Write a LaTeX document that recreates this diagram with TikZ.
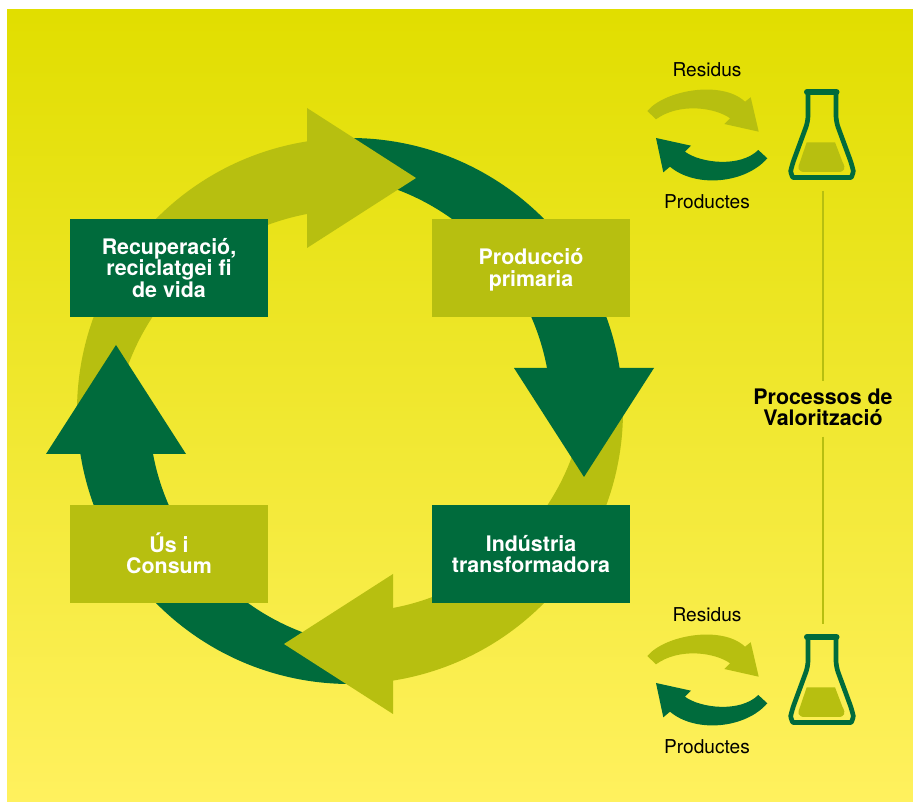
\documentclass[tikz,border=0pt]{standalone}
\usepackage{fontspec}
\setmainfont{TeX Gyre Heros}
\usetikzlibrary{positioning}
\definecolor{leafdark}{RGB}{0,107,60}
\definecolor{leafolive}{RGB}{183,191,16}
\definecolor{bgtop}{RGB}{225,222,0}
\definecolor{bgbottom}{RGB}{255,241,94}
\tikzset{
  stagebox/.style={
    rectangle,
    minimum width=198pt,
    minimum height=98pt,
    inner sep=0pt,
    align=center,
    text=white,
    font=\fontsize{21.4}{21.5}\selectfont\bfseries
  },
  smalllabel/.style={
    font=\fontsize{19.1}{22}\selectfont
  }
}

\begin{document}
\begin{tikzpicture}[x=1pt,y=1pt]
  \useasboundingbox (0,0) rectangle (913,802);

  % Background
  \shade[top color=bgtop, bottom color=bgbottom] (7,0) rectangle (913,792);

  % Cycle - bands first, heads over the tails
  \foreach \ang/\col in {0/leafdark,-90/leafolive,-180/leafdark,-270/leafolive} {
    \begin{scope}[shift={(350,391)},rotate=\ang]
      \fill[\col] (90:273) arc[start angle=90,end angle=7,radius=273pt]
        -- ([shift={(-36.5,-1)}]8:237.6)
        arc[start angle=8,end angle=81.2,radius=237.6pt] -- cycle;
    \end{scope}
  }
  \foreach \ang/\col/\off in {0/leafdark/0,-90/leafolive/1,-180/leafdark/0,-270/leafolive/-1} {
    \begin{scope}[shift={(350,391+\off)},rotate=\ang]
      \fill[\col] (164,43) -- (304,43) -- (234,-66) -- cycle;
    \end{scope}
  }

  % Stages
  \node[stagebox,fill=leafolive] (primaria) at (531,534) {\rule{0pt}{20pt}Producció\\primaria};
  \node[stagebox,fill=leafdark] (industria) at (531,248) {Indústria\\transformadora};
  \node[stagebox,fill=leafolive] (consum) at (169,248) {Ús i\\Consum\rule[-2pt]{0pt}{2pt}};
  \node[stagebox,fill=leafdark] (recuperacio) at (169,534) {Recuperació,\\reciclatgei fi\\de vida};

  % Valorisation column
  \node[align=center,minimum height=52pt,inner sep=0pt,font=\fontsize{21.4}{21.5}\selectfont\bfseries,text=black] (valor) at (823,394.5) {Processos de\\Valorització};
  \coordinate (flaskend) at (823,611);
  \coordinate (flasktop) at (823,178);
  \draw[leafolive,line width=2pt] (flaskend) -- (valor.north);
  \draw[leafolive,line width=2pt] ([yshift=-3pt]valor.south) -- (flasktop);

  % Exchanges and flasks
  \foreach \dy/\nm in {0/a,-545/b} {
    \begin{scope}[yshift=\dy pt]
      \node[smalllabel] (residus\nm) at (707,732) {Residus};
      \node[smalllabel] (productes\nm) at (707,600) {Productes};
      \fill[leafolive] (647.3,691) .. controls (665,712) and (722,722) .. (745,700.3)
        -- (750.7,704.7) -- (758.7,670.3) -- (724.3,678) -- (730,683.7)
        .. controls (716,694) and (680,700) .. (656,682.7) -- cycle;
      \fill[leafdark] (767.3,643.7) -- (758.3,652)
        .. controls (740,634) and (700,639) .. (685,650.3)
        -- (691,656.3) -- (656,664) -- (663.3,629.7) -- (670,635.3)
        .. controls (695,614) and (745,618) .. (767.3,643.7) -- cycle;
      % flask
      \fill[leafolive] (806.7,659.7) -- (835,659.7) -- (842.5,640)
        .. controls (846,634) and (845,630) .. (838,630) -- (805,630)
        .. controls (798,630) and (797,634) .. (800,640) -- cycle;
      \draw[leafdark,line width=4.7pt,line join=round,rounded corners=6pt] (808,710) -- (808,680.5)
        -- (792,637) .. controls (790.5,630) and (792.5,624.5) .. (799,624.5) -- (845,624.5)
        .. controls (851.5,624.5) and (853.5,630) .. (852,637) -- (836,680.5) -- (836,710);
      \draw[leafdark,line width=6pt,line cap=round] (807,710) -- (836.5,710);
    \end{scope}
  }
\end{tikzpicture}
\end{document}
